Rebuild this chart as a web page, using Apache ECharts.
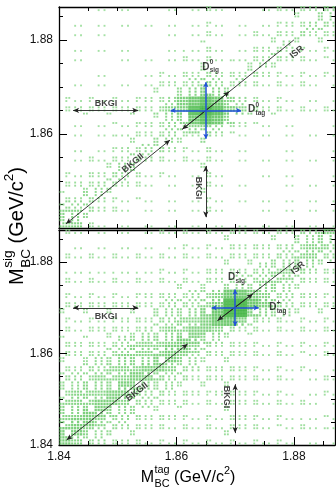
<!DOCTYPE html>
<html>
<head>
<meta charset="utf-8">
<title>M_BC tag vs sig</title>
<script src="https://cdn.jsdelivr.net/npm/echarts@6.0.0/dist/echarts.min.js"></script>
<style>
html, body { margin: 0; padding: 0; background: #fff; }
#chart { width: 336px; height: 490px; }
</style>
</head>
<body>
<div id="chart"></div>
<script>
'use strict';

// axis range (GeV/c^2)
var axisMin = 1.84;
var axisMax = 1.887;
var tickLabels = [1.84, 1.86, 1.88];

// density, one digit (0-9) per 0.002 x 0.002 cell
// rows go from y = 1.888 downwards, columns from x = 1.840 to the right
var cellX0 = 1.84;
var cellY0 = 1.888;

var topDensity = [
    '101101101101211011222344',
    '011010110111210111123344',
    '110101011101211112233443',
    '010110101112211122334333',
    '101101011112311223343232',
    '110111101122321233432222',
    '011011111222322334322212',
    '101110112233433343222121',
    '111111122334543432212111',
    '111112223345654322121211',
    '212122233467875432221111',
    '233333334568986543322222',
    '121122233457875322111111',
    '111112233445543211111011',
    '111122334433421111011101',
    '121123344322311110111011',
    '112233443221311111011101',
    '122334432211311101110111',
    '223344322111311011111011',
    '233443221111311110111101',
    '334432211111311101011110',
    '444322111111211111110111',
    '554321111111211011111111',
    '553211111111111111011111'
];

var bottomDensity = [
    '221212112122223322334455',
    '212121211212223323334455',
    '121212121122223333344554',
    '212121212222223333445544',
    '121212122222233334455433',
    '212122222222333444554332',
    '222222222233334445543322',
    '222222233334457765443322',
    '333333333444569976543333',
    '333333334445679965443333',
    '222223334455677643322222',
    '222333344556654332222222',
    '333334455566543322222222',
    '333344555665433322222122',
    '333445556654333322221221',
    '334455566544333322212212',
    '444555665443333322221221',
    '445556654433333322212212',
    '455566544333233322221221',
    '555665443332223322212212',
    '556654433322223322221221',
    '566544333222223322212212',
    '665443332222223222122121',
    '654433322222222221221212'
];

// annotation arrows [x1, y1, x2, y2]
var topArrows = [
    [1.8424, 1.865, 1.8535, 1.865],
    [1.865, 1.8532, 1.865, 1.8423],
    [1.8412, 1.8409, 1.8589, 1.8587],
    [1.861, 1.861, 1.869, 1.869]
];
var topCross = [
    [1.859, 1.865, 1.871, 1.865],
    [1.865, 1.859, 1.865, 1.871]
];
var topIsr = [[1.861, 1.861, 1.880, 1.880]];
// [text, x, y, rotate]
var topTexts = [
    ['BKGI', 1.8480, 1.8664, 0],
    ['BKGII', 1.8526, 1.8538, 39],
    ['BKGI', 1.8637, 1.8485, -90],
    ['ISR', 1.8805, 1.8774, 40]
];
// [sup, sub, x, y]
var topDTexts = [
    ['0', 'sig', 1.8644, 1.8742],
    ['0', 'tag', 1.8722, 1.8652]
];

var bottomArrows = [
    [1.8424, 1.870, 1.8535, 1.870],
    [1.870, 1.8533, 1.870, 1.8426],
    [1.8413, 1.8411, 1.8619, 1.8621],
    [1.8670, 1.8672, 1.8730, 1.8730]
];
var bottomCross = [
    [1.866, 1.870, 1.874, 1.870],
    [1.870, 1.866, 1.870, 1.874]
];
var bottomIsr = [[1.867, 1.8672, 1.880, 1.880]];
var bottomTexts = [
    ['BKGI', 1.8480, 1.8680, 0],
    ['BKGII', 1.8533, 1.8516, 38],
    ['BKGI', 1.8686, 1.8505, -90],
    ['ISR', 1.8807, 1.8787, 40]
];
var bottomDTexts = [
    ['+', 'sig', 1.8688, 1.8766],
    ['+', 'tag', 1.8758, 1.8701]
];

// ---- drawing style ----
var FONT = '"Liberation Sans", Arial, sans-serif';
var FINE_X = 0.0005;          // 4 boxes per cell across
var FINE_Y = 0.002 / 3;       // 3 boxes per cell down
var LEVEL_FRAC = [0, 0.07, 0.17, 0.32, 0.5, 0.7, 0.88, 1, 1, 1];
var LEVEL_COLOR = ['', '#8fd98f', '#8ad78a', '#82d482', '#76cf76', '#69ca69', '#5cc45c', '#4ebd4e', '#40b640', '#32ae32'];
var LEVEL_SIZE = [0, [1.9, 1.9], [1.9, 1.9], [1.9, 1.9], [2, 2], [2.1, 2.1], [2.3, 2.4], [2.7, 2.8], [3, 3.1], [3.2, 3.4]];

// ordered dither (shuffled bayer) so that low levels show as sparse boxes
var BAYER8 = [
    [0, 32, 8, 40, 2, 34, 10, 42],
    [48, 16, 56, 24, 50, 18, 58, 26],
    [12, 44, 4, 36, 14, 46, 6, 38],
    [60, 28, 52, 20, 62, 30, 54, 22],
    [3, 35, 11, 43, 1, 33, 9, 41],
    [51, 19, 59, 27, 49, 17, 57, 25],
    [15, 47, 7, 39, 13, 45, 5, 37],
    [63, 31, 55, 23, 61, 29, 53, 21]
];
var ROW_ORDER = [3, 6, 0, 5, 1, 7, 2, 4];
var COL_ORDER = [5, 1, 6, 2, 7, 0, 3, 4];

function threshold(fi, fj) {
    return (BAYER8[ROW_ORDER[fj % 8]][COL_ORDER[fi % 8]] + 0.5) / 64;
}

function buildDensity(rows) {
    var groups = [[], [], [], [], [], [], [], [], [], []];
    rows.forEach(function (row, r) {
        for (var c = 0; c < row.length; c++) {
            var level = +row.charAt(c);
            if (!level) continue;
            for (var fr = 0; fr < 3; fr++) {
                for (var fc = 0; fc < 4; fc++) {
                    var fi = c * 4 + fc, fj = r * 3 + fr;
                    var x = cellX0 + FINE_X * (fi + 0.5);
                    var y = cellY0 - FINE_Y * (fj + 0.5);
                    if (x > axisMax || y > axisMax) continue;
                    if (threshold(fi, fj) < LEVEL_FRAC[level]) groups[level].push([x, y]);
                }
            }
        }
    });
    return groups;
}

function isMajor(v) {
    return tickLabels.some(function (t) { return Math.abs(t - v) < 1e-7; });
}

function makeAxis(g, pos, major, showLabel, showMin) {
    var axis = {
        type: 'value',
        gridIndex: g,
        position: pos,
        min: axisMin,
        max: axisMax,
        interval: major ? 0.02 : 0.005,
        axisLine: { show: major, onZero: false, lineStyle: { color: '#000', width: 1.3 } },
        axisTick: { show: true, inside: true, length: major ? 8 : 4, lineStyle: { color: '#000', width: 1 } },
        axisLabel: { show: false },
        axisPointer: { show: false },
        splitLine: { show: false },
        silent: true
    };
    if (showLabel) {
        axis.axisLabel = {
            show: true,
            showMinLabel: !!showMin,
            showMaxLabel: false,
            margin: 6,
            fontSize: 12,
            fontFamily: FONT,
            color: '#111',
            formatter: function (v) { return isMajor(v) ? v.toFixed(2) : ''; }
        };
    }
    return axis;
}

function segs(list, ends) {
    return list.map(function (a) {
        return [{ coord: [a[0], a[1]], symbol: ends }, { coord: [a[2], a[3]], symbol: ends }];
    });
}

function panelSeries(g, density, arrows, cross, isr, texts, dTexts) {
    var out = [];
    var groups = buildDensity(density);
    for (var l = 1; l <= 9; l++) {
        if (!groups[l].length) continue;
        out.push({
            type: 'scatter',
            xAxisIndex: 4 * g,
            yAxisIndex: 4 * g,
            symbol: 'rect',
            symbolSize: LEVEL_SIZE[l],
            itemStyle: { color: LEVEL_COLOR[l] },
            data: groups[l],
            silent: true,
            animation: false,
            z: 2
        });
    }
    // text labels + black arrows + ISR diagonal
    out.push({
        type: 'scatter',
        xAxisIndex: 4 * g,
        yAxisIndex: 4 * g,
        symbolSize: 1,
        itemStyle: { color: 'rgba(0,0,0,0)' },
        silent: true,
        animation: false,
        z: 6,
        label: {
            show: true, position: 'inside', align: 'center', verticalAlign: 'middle',
            color: '#111', fontWeight: 'bold', fontSize: 9, fontFamily: FONT
        },
        data: texts.map(function (t) {
            return { value: [t[1], t[2]], label: { formatter: t[0], rotate: t[3] } };
        }),
        markLine: {
            silent: true,
            animation: false,
            symbolSize: [4, 6],
            label: { show: false },
            lineStyle: { color: '#222', width: 0.9, type: 'solid' },
            emphasis: { disabled: true },
            data: segs(isr, 'none').concat(segs(arrows, 'arrow'))
        }
    });
    // D labels + blue cross
    var dItems = [];
    dTexts.forEach(function (d) {
        dItems.push({ value: [d[2], d[3]], label: { formatter: 'D', fontSize: 10, offset: [0, 0] } });
        dItems.push({ value: [d[2], d[3]], label: { formatter: d[0], fontSize: 6.5, offset: [7.4, -4.5] } });
        dItems.push({ value: [d[2], d[3]], label: { formatter: d[1], fontSize: 6.5, offset: [7.4, 3.5] } });
    });
    out.push({
        type: 'scatter',
        xAxisIndex: 4 * g,
        yAxisIndex: 4 * g,
        symbolSize: 1,
        itemStyle: { color: 'rgba(0,0,0,0)' },
        silent: true,
        animation: false,
        z: 6,
        label: {
            show: true, position: 'inside', align: 'left', verticalAlign: 'middle',
            color: '#111', fontWeight: 'bold', fontFamily: FONT
        },
        data: dItems,
        markLine: {
            silent: true,
            animation: false,
            symbolSize: [4, 5],
            label: { show: false },
            lineStyle: { color: '#2150d8', width: 1.5, type: 'solid' },
            emphasis: { disabled: true },
            data: segs(cross, 'arrow')
        }
    });
    return out;
}

// axis titles with super/subscripts
var measureCtx = document.createElement('canvas').getContext('2d');
function textWidth(s, size) {
    measureCtx.font = size + 'px ' + FONT;
    return measureCtx.measureText(s).width;
}

function titleGraphic(sup, cx, cy, size, rotation) {
    var small = size * 0.68;
    var pieces = [];
    var x = 0;
    pieces.push({ t: 'M', x: x, dy: 0, s: size });
    x += textWidth('M', size) + 0.5;
    pieces.push({ t: sup, x: x, dy: -size * 0.45, s: small });
    pieces.push({ t: 'BC', x: x, dy: size * 0.42, s: small });
    x += Math.max(textWidth(sup, small), textWidth('BC', small));
    pieces.push({ t: ' (GeV/c', x: x, dy: 0, s: size });
    x += textWidth(' (GeV/c', size);
    pieces.push({ t: '2', x: x, dy: -size * 0.4, s: small });
    x += textWidth('2', small);
    pieces.push({ t: ')', x: x, dy: 0, s: size });
    x += textWidth(')', size);
    var total = x;
    return {
        type: 'group',
        x: cx,
        y: cy,
        rotation: rotation,
        silent: true,
        children: pieces.map(function (p) {
            return {
                type: 'text',
                x: p.x - total / 2,
                y: p.dy,
                style: { text: p.t, font: p.s + 'px ' + FONT, fill: '#000', align: 'left', verticalAlign: 'middle' }
            };
        })
    };
}

var xAxes = [], yAxes = [];
[0, 1].forEach(function (g) {
    xAxes.push(makeAxis(g, 'bottom', true, g === 1, true));
    xAxes.push(makeAxis(g, 'bottom', false));
    xAxes.push(makeAxis(g, 'top', true));
    xAxes.push(makeAxis(g, 'top', false));
    yAxes.push(makeAxis(g, 'left', true, true, g === 1));
    yAxes.push(makeAxis(g, 'left', false));
    yAxes.push(makeAxis(g, 'right', true));
    yAxes.push(makeAxis(g, 'right', false));
});

var option = {
    animation: false,
    backgroundColor: '#fff',
    textStyle: { fontFamily: FONT },
    grid: [
        { left: 59, top: 7, width: 276, height: 221, containLabel: false, outerBoundsMode: 'none' },
        { left: 59, top: 230, width: 276, height: 215, containLabel: false, outerBoundsMode: 'none' }
    ],
    xAxis: xAxes,
    yAxis: yAxes,
    series: panelSeries(0, topDensity, topArrows, topCross, topIsr, topTexts, topDTexts)
        .concat(panelSeries(1, bottomDensity, bottomArrows, bottomCross, bottomIsr, bottomTexts, bottomDTexts)),
    graphic: [
        titleGraphic('tag', 188, 477.5, 16, 0),
        titleGraphic('sig', 17.5, 226, 20, Math.PI / 2)
    ]
};

var chart = echarts.init(document.getElementById('chart'));
chart.setOption(option);
</script>
</body>
</html>
